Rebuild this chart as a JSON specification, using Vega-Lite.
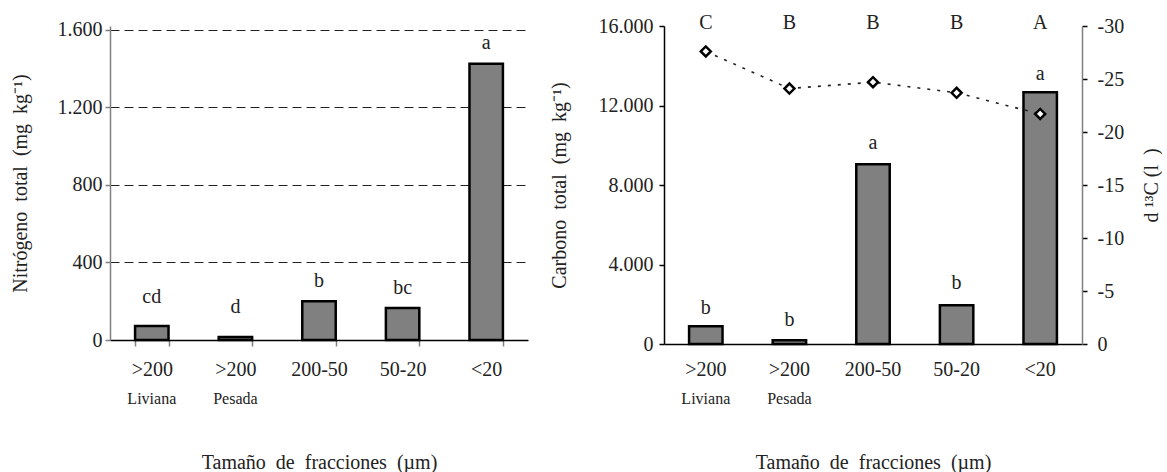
{
  "$schema": "https://vega.github.io/schema/vega-lite/v6.json",
  "padding": {"left": 10, "top": 12, "right": 0, "bottom": 0},
  "background": "white",
  "config": {
    "view": {"stroke": null},
    "font": "Liberation Serif",
    "axis": {
      "labelFont": "Liberation Serif",
      "titleFont": "Liberation Serif",
      "labelColor": "#222",
      "titleColor": "#222",
      "titleFontWeight": "normal",
      "labelFontSize": 20,
      "titleFontSize": 20
    }
  },
  "data": {
    "values": [
      {"frac": ">200 Liviana", "N": 72, "N_lab": "cd", "N_lab_y": 222, "C": 890, "C_lab": "b", "C_lab_y": 1811, "d13C": -27.6, "d_lab": "C", "d_lab_y": -30.3},
      {"frac": ">200 Pesada", "N": 15, "N_lab": "d", "N_lab_y": 170, "C": 190, "C_lab": "b", "C_lab_y": 1208, "d13C": -24.1, "d_lab": "B", "d_lab_y": -30.3},
      {"frac": "200-50", "N": 200, "N_lab": "b", "N_lab_y": 305, "C": 9040, "C_lab": "a", "C_lab_y": 10113, "d13C": -24.7, "d_lab": "B", "d_lab_y": -30.3},
      {"frac": "50-20", "N": 165, "N_lab": "bc", "N_lab_y": 268, "C": 1950, "C_lab": "b", "C_lab_y": 3069, "d13C": -23.7, "d_lab": "B", "d_lab_y": -30.3},
      {"frac": "<20", "N": 1425, "N_lab": "a", "N_lab_y": 1533, "C": 12670, "C_lab": "a", "C_lab_y": 13585, "d13C": -21.7, "d_lab": "A", "d_lab_y": -30.3}
    ]
  },
  "spacing": 21,
  "hconcat": [
    {
      "width": 418,
      "height": 314,
      "layer": [
        {
          "mark": {"type": "bar", "fill": "#808080", "stroke": "#000", "strokeWidth": 2.5},
          "encoding": {
            "x": {
              "field": "frac", "type": "nominal", "sort": null,
              "scale": {"paddingInner": 0.6, "paddingOuter": 0.3},
              "axis": {
                "orient": "bottom", "title": null, "labelAngle": 0,
                "labelExpr": "isValid(datum.value) ? split(datum.value, ' ')[0] : ''",
                "ticks": true, "tickBand": "extent", "tickSize": 6, "tickColor": "#808080", "tickWidth": 1.5,
                "domainColor": "#000", "domainWidth": 1.5, "labelPadding": 13, "grid": false
              }
            },
            "y": {
              "field": "N", "type": "quantitative",
              "scale": {"domain": [0, 1620], "nice": false},
              "axis": {
                "orient": "left",
                "values": [0, 400, 800, 1200, 1600],
                "grid": true, "gridDash": [9, 5], "gridColor": "#222", "gridWidth": 1,
                "domainColor": "#808080", "domainWidth": 1.5, "tickColor": "#808080", "tickWidth": 1.5, "tickSize": 5,
                "labelPadding": 3,
                "labelExpr": "replace(format(datum.value, ','), ',', '.')",
                "title": "Nitrógeno\u00a0 total\u00a0 (mg\u00a0 kg⁻¹)",
                "titlePadding": 27
              }
            }
          }
        },
        {
          "mark": {"type": "text", "fontSize": 20, "font": "Liberation Serif", "color": "#222", "baseline": "middle"},
          "encoding": {
            "x": {
              "field": "frac", "type": "nominal", "sort": null,
              "axis": {
                "orient": "bottom", "labelAngle": 0, "domain": false, "ticks": false, "grid": false,
                "labelExpr": "isValid(datum.value) && indexof(datum.value, ' ') > 0 ? split(datum.value, ' ')[1] : ''",
                "labelFontSize": 16, "labelPadding": 50,
                "title": "Tamaño\u00a0 de\u00a0 fracciones\u00a0 (µm)",
                "titlePadding": 46
              }
            },
            "y": {"field": "N_lab_y", "type": "quantitative", "scale": {"domain": [0, 1620], "nice": false}, "axis": null},
            "text": {"field": "N_lab"}
          }
        }
      ],
      "resolve": {"scale": {"y": "independent"}, "axis": {"x": "independent"}}
    },
    {
      "width": 418,
      "height": 318,
      "layer": [
        {
          "mark": {"type": "bar", "fill": "#808080", "stroke": "#000", "strokeWidth": 2.5},
          "encoding": {
            "x": {
              "field": "frac", "type": "nominal", "sort": null,
              "scale": {"paddingInner": 0.6, "paddingOuter": 0.3},
              "axis": {
                "orient": "bottom", "title": null, "labelAngle": 0,
                "labelExpr": "split(datum.value, ' ')[0]",
                "ticks": false, "domainColor": "#000", "domainWidth": 1.5, "labelPadding": 15, "grid": false
              }
            },
            "y": {
              "field": "C", "type": "quantitative",
              "scale": {"domain": [0, 16000], "nice": false},
              "axis": {
                "orient": "left",
                "values": [0, 4000, 8000, 12000, 16000],
                "grid": false,
                "domainColor": "#000", "domainWidth": 1.5, "tickColor": "#000", "tickWidth": 1.5, "tickSize": 5,
                "labelPadding": 6,
                "labelExpr": "replace(format(datum.value, ','), ',', '.')",
                "title": "Carbono\u00a0 total\u00a0 (mg\u00a0 kg⁻¹)",
                "titlePadding": 29
              }
            }
          }
        },
        {
          "mark": {"type": "text", "fontSize": 20, "font": "Liberation Serif", "color": "#222", "baseline": "middle"},
          "encoding": {
            "x": {
              "field": "frac", "type": "nominal", "sort": null,
              "axis": {
                "orient": "bottom", "labelAngle": 0, "domain": false, "ticks": false, "grid": false,
                "labelExpr": "indexof(datum.value, ' ') > 0 ? split(datum.value, ' ')[1] : ''",
                "labelFontSize": 16, "labelPadding": 46,
                "title": "Tamaño\u00a0 de\u00a0 fracciones\u00a0 (µm)",
                "titlePadding": 46
              }
            },
            "y": {"field": "C_lab_y", "type": "quantitative", "scale": {"domain": [0, 16000], "nice": false}, "axis": null},
            "text": {"field": "C_lab"}
          }
        },
        {
          "mark": {"type": "line", "color": "#222", "strokeWidth": 1.6, "strokeDash": [3, 7]},
          "encoding": {
            "x": {"field": "frac", "type": "nominal", "sort": null, "axis": null},
            "y": {
              "field": "d13C", "type": "quantitative",
              "scale": {"domain": [0, -30], "nice": false, "zero": false},
              "axis": {
                "orient": "right",
                "values": [0, -5, -10, -15, -20, -25, -30],
                "grid": false,
                "domainColor": "#808080", "domainWidth": 1.5, "tickColor": "#000", "tickWidth": 1.5, "tickSize": 5,
                "labelPadding": 10,
                "labelExpr": "datum.value == 0 ? '0' : '-' + abs(datum.value)",
                "title": "d ¹³C (l\u00a0 )",
                "titleAngle": 270,
                "titleBaseline": "top",
                "titlePadding": 18
              }
            }
          }
        },
        {
          "mark": {"type": "point", "shape": "diamond", "filled": true, "fill": "#fff", "stroke": "#000", "strokeWidth": 2.5, "size": 100, "opacity": 1},
          "encoding": {
            "x": {"field": "frac", "type": "nominal", "sort": null, "axis": null},
            "y": {"field": "d13C", "type": "quantitative", "scale": {"domain": [0, -30], "nice": false, "zero": false}, "axis": null}
          }
        },
        {
          "mark": {"type": "text", "fontSize": 20, "font": "Liberation Serif", "color": "#222", "baseline": "middle"},
          "encoding": {
            "x": {"field": "frac", "type": "nominal", "sort": null, "axis": null},
            "y": {"field": "d_lab_y", "type": "quantitative", "scale": {"domain": [0, -30], "nice": false, "zero": false}, "axis": null},
            "text": {"field": "d_lab"}
          }
        }
      ],
      "resolve": {"scale": {"y": "independent"}, "axis": {"x": "independent"}}
    }
  ]
}
